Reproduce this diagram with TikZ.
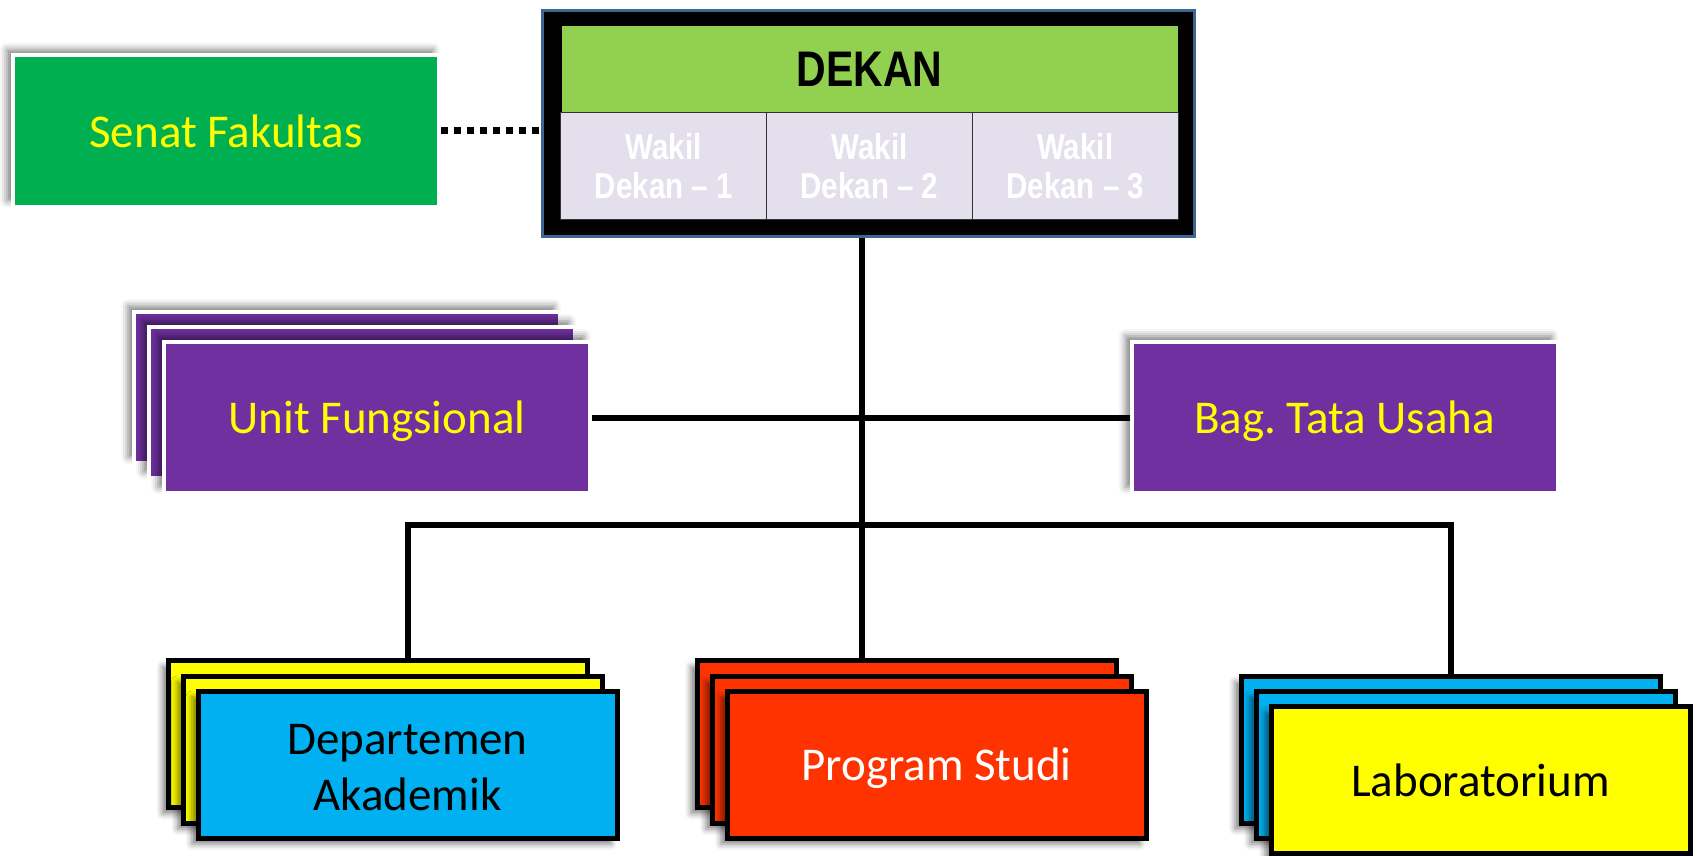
\documentclass[tikz,border=0pt]{standalone}
\usepackage{fontspec}
\setmainfont{Carlito}
\newfontfamily\narrowfont[FakeStretch=0.82]{Liberation Sans}
\usetikzlibrary{shadows.blur}
\definecolor{senatgreen}{HTML}{00B050}
\definecolor{dekangreen}{HTML}{92D050}
\definecolor{wakilbg}{HTML}{E4DFEC}
\definecolor{unitpurple}{HTML}{7030A0}
\definecolor{skyblue}{HTML}{00B0F0}
\definecolor{prodired}{HTML}{FF3300}
\definecolor{brightyellow}{HTML}{FFFF00}
\definecolor{dekanblue}{HTML}{3E6593}
\pgfdeclarelayer{bg}
\pgfsetlayers{bg,main}
\frenchspacing
\tikzset{
  bigtext/.style={font=\fontsize{47}{56}\selectfont, text depth=0pt},
  whitebox/.style={rectangle, draw=white, line width=4pt, inner sep=0pt, align=center,
    minimum width=426pt, minimum height=151pt, bigtext,
    blur shadow={shadow xshift=-6pt, shadow yshift=6pt, shadow blur radius=7pt, shadow opacity=50}},
  blackbox/.style={rectangle, draw=black, line width=5pt, inner sep=0pt, align=center,
    minimum width=419pt, minimum height=147pt, bigtext,
    blur shadow={shadow xshift=-6pt, shadow yshift=-6pt, shadow blur radius=6pt, shadow opacity=50}},
  wakil/.style={rectangle, draw=black!80, line width=1pt, fill=wakilbg, inner sep=0pt,
    minimum width=205.67pt, minimum height=106pt, align=center, text=white,
    font=\narrowfont\bfseries\fontsize{36}{39}\selectfont},
  conn/.style={line width=6pt, black},
  dotconn/.style={line width=7pt, black, dash pattern=on 7pt off 6pt}
}
\begin{document}
\begin{tikzpicture}[x=1pt,y=-1pt]
\useasboundingbox (0,0) rectangle (1698,856);

% Senat
\node[whitebox, fill=senatgreen, text=brightyellow] (senat) at (226,131) {Senat Fakultas};

% Dekan block
\node[rectangle, draw=dekanblue, line width=3pt, fill=black, minimum width=652pt, minimum height=226pt, inner sep=0pt] (dekanbox) at (868.5,123.5) {};
\node[rectangle, draw=black, line width=1pt, fill=dekangreen, minimum width=617pt, minimum height=87pt, inner sep=0pt,
  font=\narrowfont\bfseries\fontsize{50}{52}\selectfont] (dekan) at (869.5,69.5) {DEKAN};
\node[wakil] (w1) at (663.8,166) {Wakil\\Dekan – 1};
\node[wakil] (w2) at (869.5,166) {Wakil\\Dekan – 2};
\node[wakil] (w3) at (1075.2,166) {Wakil\\Dekan – 3};

% Unit Fungsional stack
\node[whitebox, fill=unitpurple] (uf1) at (347,387.5) {};
\node[whitebox, fill=unitpurple] (uf2) at (362,402.5) {};
\node[whitebox, fill=unitpurple, text=brightyellow] (uf3) at (377,417.5) {Unit Fungsional};

% Bag. Tata Usaha
\node[whitebox, fill=unitpurple, text=brightyellow] (bag) at (1344.5,417.5) {Bag. Tata Usaha};

% Departemen stack
\node[blackbox, fill=brightyellow] (dept1) at (378,734) {};
\node[blackbox, fill=brightyellow] (dept2) at (393,749.5) {};
\node[blackbox, fill=skyblue, text=black] (dept3) at (407.5,764.5) {};
\node[bigtext, align=center, text=black, inner sep=0pt] (depttext) at ([yshift=-3pt]dept3.center) {Departemen\\Akademik};

% Program Studi stack
\node[blackbox, fill=prodired] (prodi1) at (906.5,734) {};
\node[blackbox, fill=prodired] (prodi2) at (921.5,749.5) {};
\node[blackbox, fill=prodired, text=white] (prodi3) at (936.5,764.5) {Program Studi};

% Laboratorium stack
\node[blackbox, fill=skyblue] (lab1) at (1450.5,749.5) {};
\node[blackbox, fill=skyblue] (lab2) at (1465.5,764.5) {};
\node[blackbox, fill=brightyellow, text=black] (lab3) at (1480.5,780) {Laboratorium};

% connectors
\coordinate (spine) at (862,525);
\coordinate (busL) at (408,525);
\coordinate (busR) at (1451,525);
\begin{pgfonlayer}{bg}
\draw[dotconn] (senat.east) -- (senat.east -| dekanbox.west);
\draw[conn] (dekanbox.south -| spine) -- (prodi1.north -| spine);
\draw[conn] (uf3.east) -- (bag.west);
\draw[conn] (busL |- dept1.north) -- (busL) -- (busR) -- (busR |- lab1.north);
\end{pgfonlayer}
\end{tikzpicture}
\end{document}
